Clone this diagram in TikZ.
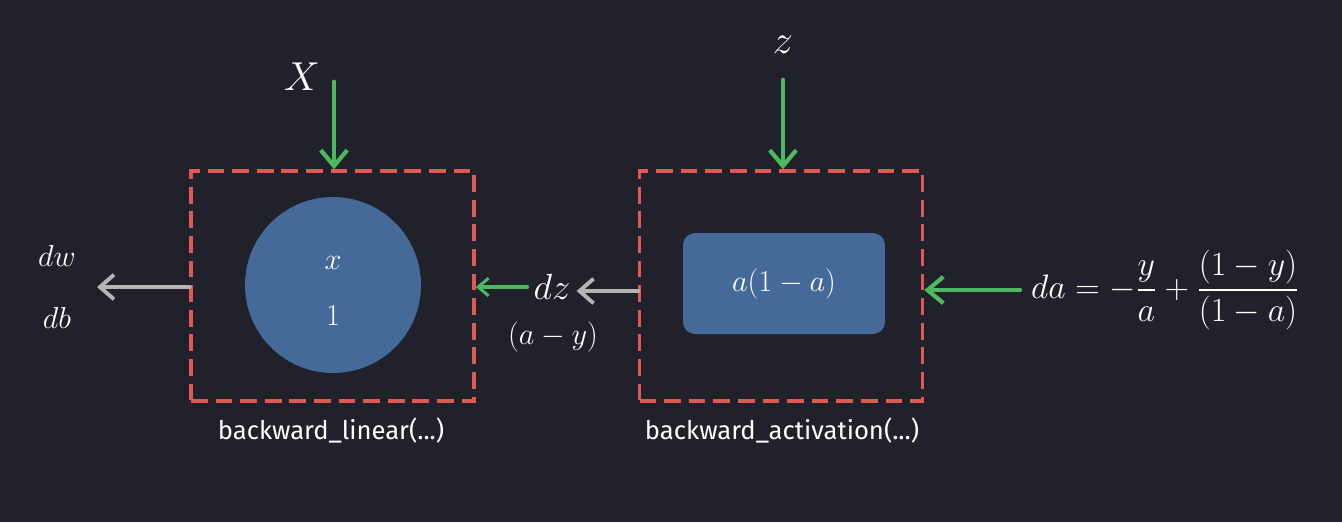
\RequirePackage{fix-cm}
\documentclass[tikz,border=0pt]{standalone}
\usepackage{amsmath}
\usepackage{fontspec}
\setsansfont{Fira Sans}
\usepackage{xcolor}
\usetikzlibrary{shapes.geometric, arrows.meta, positioning, calc, backgrounds}
\definecolor{bgdark}{HTML}{21212B}
\definecolor{boxred}{HTML}{E05A55}
\definecolor{nodeblue}{HTML}{456A99}
\definecolor{arrgreen}{HTML}{4CB860}
\definecolor{arrgray}{HTML}{B4B4B4}

\begin{document}
\begin{tikzpicture}[x=0.02cm, y=-0.02cm,
    stage/.style={draw=boxred, dash pattern=on 9.5pt off 4.5pt, line width=2pt, minimum width=5.66cm, minimum height=4.6cm},
    unit/.style={fill=nodeblue, text=white, font=\fontsize{17.28}{20}\selectfont},
    mathlbl/.style={text=white, font=\fontsize{17.28}{20}\selectfont},
    biglbl/.style={text=white, font=\fontsize{20.74}{25}\selectfont},
    caption/.style={text=white, font=\sffamily\fontsize{14.6}{17}\selectfont},
    garrow/.style={-{Straight Barb[length=9pt, width=15pt, line width=2.4pt]}, line width=2.8pt, arrgreen, line cap=round},
    sarrow/.style={-{Straight Barb[length=6pt, width=10pt, line width=1.7pt]}, line width=1.8pt, arrgreen, line cap=round},
    warrow/.style={-{Straight Barb[length=8pt, width=14pt, line width=2.2pt]}, line width=2.7pt, arrgray, line cap=round}
]
    \fill[bgdark] (0,0) rectangle (1342,522);
    \useasboundingbox (0,0) rectangle (1342,522);

    \node[stage] at (332.5,286) (linbox) {};
    \node[stage] at (781,286) (actbox) {};
    \node[unit, circle, minimum size=3.52cm, align=center] at (333,285) (lincirc) {};
    \node[mathlbl] at (333,263) (xin) {$x$};
    \node[mathlbl] at (333,316) (one) {$1$};
    \node[unit, rounded corners=6.8pt, minimum width=4.04cm, minimum height=2.02cm] at (784,283.5) (actrect) {$a(1-a)$};

    \node[caption] at (331,431) (lincap) {backward\_linear(...)};
    \node[caption] at (782,431) (actcap) {backward\_activation(...)};

    \node[biglbl, font=\fontsize{23}{27}\selectfont] at (302,77) (Xlab) {$X$};
    \node[biglbl, font=\fontsize{23}{27}\selectfont] at (783,45) (zlab) {$z$};
    \coordinate (Xtop) at (334,82);
    \coordinate (ztop) at (783,80);
    \draw[garrow] (Xtop) -- (linbox.north -| Xtop);
    \draw[garrow] (ztop) -- (actbox.north -| ztop);

    \node[mathlbl, font=\fontsize{19.3}{23}\selectfont, anchor=west] at (1025,290) (da) {$da = -\dfrac{y}{a} + \dfrac{(1-y)}{(1-a)}$};
    \draw[garrow] ([xshift=-3pt]da.west) -- (actbox.east |- da.west);

    \node[biglbl] at (552,287) (dz) {$dz$};
    \node[mathlbl] at (553,337) (ay) {$(a-y)$};
    \draw[warrow] (actbox.west |- 0,291) -- (dz.east |- 0,291);
    \draw[sarrow] (dz.west |- 0,287) -- (linbox.east |- 0,287);

    \node[mathlbl] at (57,256) (dw) {$dw$};
    \node[mathlbl] at (57,318) (db) {$db$};
    \coordinate (grads) at (97,287);
    \draw[warrow] (linbox.west |- grads) -- (grads);
\end{tikzpicture}
\end{document}
